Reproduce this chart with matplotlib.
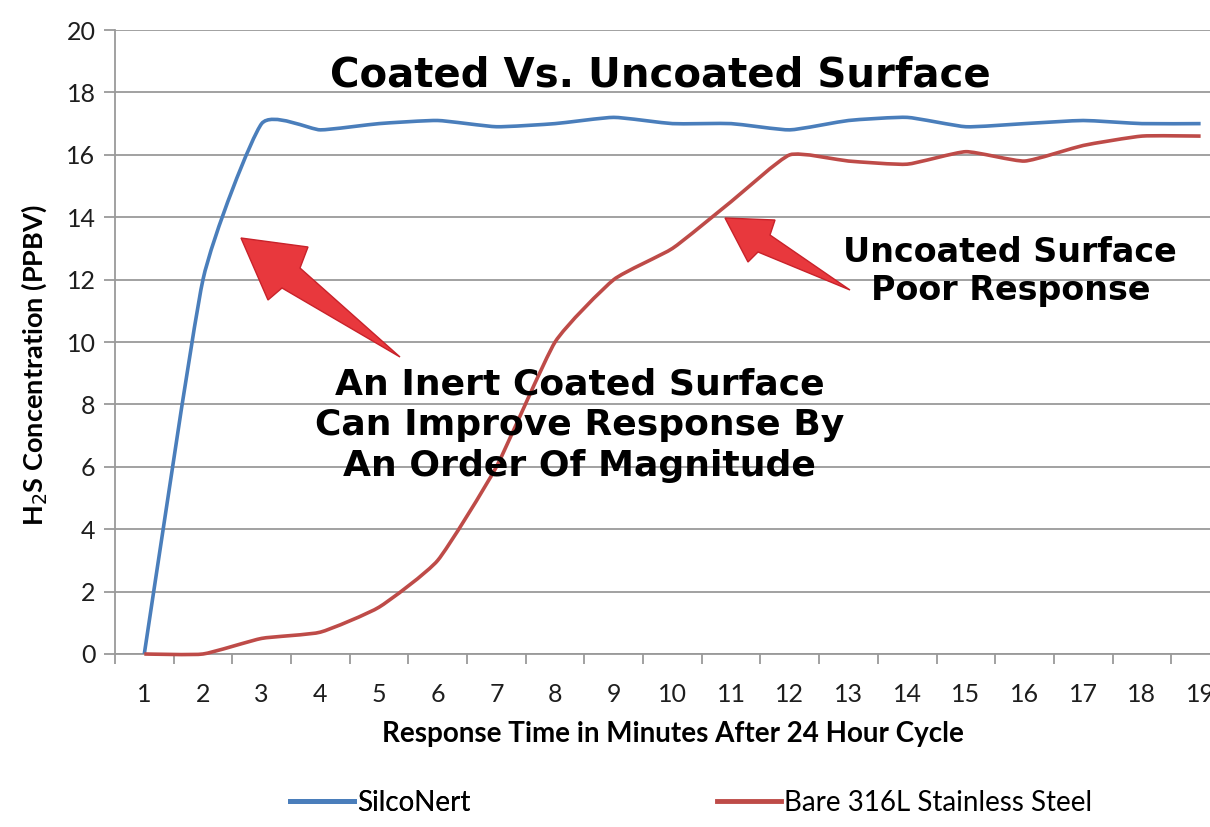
import matplotlib
matplotlib.use("Agg")
import matplotlib.pyplot as plt
from matplotlib.path import Path
from matplotlib.patches import PathPatch, Polygon
from matplotlib.lines import Line2D

# Data
minutes = list(range(1, 20))
silconert = [0, 12, 17, 16.8, 17, 17.1, 16.9, 17, 17.2, 17, 17, 16.8, 17.1, 17.2, 16.9, 17, 17.1, 17, 17]
bare_316l = [0, 0, 0.5, 0.7, 1.5, 3, 6, 10, 12, 13, 14.5, 16, 15.8, 15.7, 16.1, 15.8, 16.3, 16.6, 16.6]
series_names = ["SilcoNert", "Bare 316L Stainless Steel"]
y_ticks = [0, 2, 4, 6, 8, 10, 12, 14, 16, 18, 20]

BLUE = "#4a7ebb"
RED = "#be4b48"
GRID = "#9a9a9a"


def smooth_path(xs, ys, k=12.0):
    # smoothed line: cubic bezier through every data point (mild tension)
    verts = [(xs[0], ys[0])]
    codes = [Path.MOVETO]
    n = len(xs)
    for i in range(n - 1):
        p0 = (xs[max(i - 1, 0)], ys[max(i - 1, 0)])
        p1 = (xs[i], ys[i])
        p2 = (xs[i + 1], ys[i + 1])
        p3 = (xs[min(i + 2, n - 1)], ys[min(i + 2, n - 1)])
        c1 = (p1[0] + (p2[0] - p0[0]) / k, p1[1] + (p2[1] - p0[1]) / k)
        c2 = (p2[0] - (p3[0] - p1[0]) / k, p2[1] - (p3[1] - p1[1]) / k)
        verts += [c1, c2, p2]
        codes += [Path.CURVE4] * 3
    return Path(verts, codes)


fig = plt.figure(figsize=(12.1, 8.27), dpi=100)
ax = fig.add_axes([0.095, 0.2092, 0.9215, 0.7545])

for vals, color in [(silconert, BLUE), (bare_316l, RED)]:
    ax.add_patch(PathPatch(smooth_path(minutes, vals), facecolor="none",
                           edgecolor=color, lw=2.6, zorder=3, clip_on=False))

ax.set_xlim(0.5, 19.5)
ax.set_ylim(0, 20)
ax.set_yticks(y_ticks)
ax.set_xticks(minutes)
ax.set_xticks([m + 0.5 for m in range(0, 19)], minor=True)
ax.grid(axis="y", color=GRID, lw=1.3)
ax.set_axisbelow(True)
for s in ["top", "right"]:
    ax.spines[s].set_visible(False)
for s in ["left", "bottom"]:
    ax.spines[s].set_color(GRID)
    ax.spines[s].set_linewidth(1.3)
ax.tick_params(axis="x", which="major", length=0, pad=21, labelsize=18)
ax.tick_params(axis="x", which="minor", length=7, color=GRID, width=1.3)
ax.tick_params(axis="y", length=8, color=GRID, width=1.3, labelsize=18, pad=6)
for lbl in ax.get_xticklabels() + ax.get_yticklabels():
    lbl.set_family("Lato")
    lbl.set_color("#1e1e1e")

ax.set_xlabel("Response Time in Minutes After 24 Hour Cycle", fontsize=20,
              fontweight="bold", family="Lato", labelpad=11)
ax.set_ylabel("H$_2$S Concentration (PPBV)", fontsize=19.5, fontweight="bold",
              family="Lato")
ax.yaxis.set_label_coords(-0.059, 0.463)

# Title and annotations
fig.text(0.546, 0.909, "Coated Vs. Uncoated Surface", ha="center", va="center",
         fontsize=29, fontweight="bold", family="DejaVu Sans")
fig.text(0.479, 0.4855, "An Inert Coated Surface\nCan Improve Response By\nAn Order Of Magnitude",
         ha="center", va="center", fontsize=26, fontweight="bold",
         family="DejaVu Sans", linespacing=1.25)
fig.text(0.835, 0.672, "Uncoated Surface\nPoor Response", ha="center", va="center",
         fontsize=24, fontweight="bold", family="DejaVu Sans", linespacing=1.18)


def red_arrow(pts):
    W, H = 1210, 827
    xy = [(x / W, 1 - y / H) for x, y in pts]
    fig.add_artist(Polygon(xy, closed=True, transform=fig.transFigure,
                           facecolor="#e8383d", edgecolor="#c8222a", lw=1.0, zorder=5))


red_arrow([(241, 238), (308, 247), (300, 268), (400, 357), (282, 288), (268, 300)])
red_arrow([(725, 218), (775, 220), (770, 235), (850, 290), (758, 252), (748, 262)])

# Legend
handles = [Line2D([], [], color=BLUE, lw=3.5), Line2D([], [], color=RED, lw=3.5)]
leg1 = fig.legend([handles[0]], [series_names[0]], loc="center left",
                  bbox_to_anchor=(0.219, 0.029), frameon=False, handlelength=2.3,
                  handletextpad=0.1, prop={"family": "Lato", "size": 20})
fig.add_artist(leg1)
fig.legend([handles[1]], [series_names[1]], loc="center left",
           bbox_to_anchor=(0.572, 0.029), frameon=False, handlelength=2.3,
           handletextpad=0.1, prop={"family": "Lato", "size": 20})

fig.savefig("out.png", dpi=100)
